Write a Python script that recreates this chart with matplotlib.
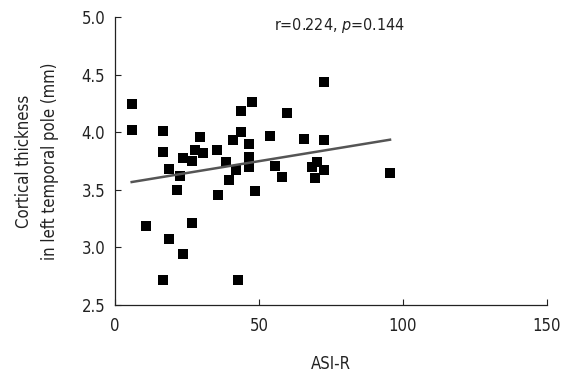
import numpy as np
import matplotlib
matplotlib.use('Agg')
import matplotlib.pyplot as plt

plt.rcParams['font.family'] = ['DejaVu Sans']
plt.rcParams['font.stretch'] = 'condensed'

# ASI-R score vs cortical thickness of left temporal pole (mm)
asi_r = [5.8, 5.8, 16.8, 16.8, 18.75, 22.6, 21.6, 10.8, 18.75, 23.7,
         16.8, 42.8, 26.6, 23.7, 26.6, 27.8, 29.5, 30.7, 35.5, 35.9,
         38.5, 40.9, 43.6, 43.6, 47.5, 46.6, 46.6, 46.6, 42.0, 39.7,
         48.6, 72.6, 59.6, 53.8, 65.6, 72.6, 55.6, 57.9, 68.4, 70.1,
         72.6, 69.4, 95.5]
thickness = [4.25, 4.02, 4.01, 3.83, 3.68, 3.62, 3.50, 3.19, 3.07, 2.94,
             2.72, 2.72, 3.21, 3.78, 3.75, 3.85, 3.96, 3.82, 3.85, 3.46,
             3.74, 3.93, 4.00, 4.19, 4.26, 3.90, 3.79, 3.70, 3.67, 3.59,
             3.49, 4.44, 4.17, 3.97, 3.94, 3.93, 3.71, 3.61, 3.70, 3.74,
             3.67, 3.60, 3.65]

x = np.array(asi_r)
y = np.array(thickness)
slope, intercept = np.polyfit(x, y, 1)
xfit = np.array([x.min(), x.max()])

fig = plt.figure(figsize=(5.67, 3.87), dpi=100)
ax = fig.add_axes([0.2028, 0.2119, 0.7619, 0.7434])

ax.scatter(x, y, marker='s', s=62, color='black', linewidths=0, zorder=3)
ax.plot(xfit, slope * xfit + intercept, color='#555555', linewidth=1.8, zorder=4)

ax.set_xlim(0, 150)
ax.set_ylim(2.5, 5.0)
ax.set_xticks([0, 50, 100, 150])
ax.set_yticks([2.5, 3.0, 3.5, 4.0, 4.5, 5.0])
ax.set_yticklabels(['2.5', '3.0', '3.5', '4.0', '4.5', '5.0'])

for s in ['top', 'right']:
    ax.spines[s].set_visible(False)
for s in ['left', 'bottom']:
    ax.spines[s].set_linewidth(0.9)
    ax.spines[s].set_color('#222222')

ax.tick_params(direction='in', length=4, width=0.8, colors='#222222', labelsize=12)
ax.tick_params(axis='x', pad=9)
ax.tick_params(axis='y', pad=7)

ax.set_xlabel('ASI-R', fontsize=12, color='#222222', labelpad=14)
ax.set_ylabel('Cortical thickness\nin left temporal pole (mm)', fontsize=12,
              color='#222222', labelpad=16, linespacing=1.6)

ax.text(78, 4.93, 'r=0.224, $\\it{p}$=0.144', fontsize=11.5, color='#222222',
        ha='center', va='center')

fig.savefig('out.png', dpi=100)
